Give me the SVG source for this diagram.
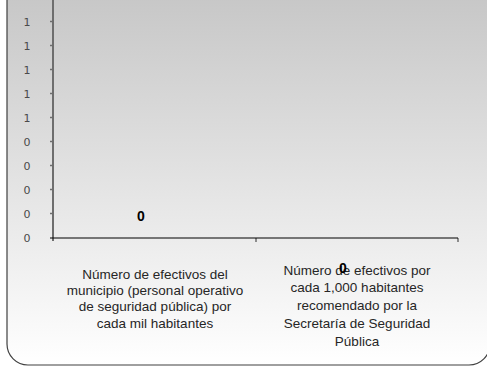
<svg xmlns="http://www.w3.org/2000/svg" width="487" height="367" viewBox="0 0 487 367">
<defs>
<linearGradient id="bg" x1="0" y1="0" x2="0" y2="1">
<stop offset="0" stop-color="#c3c3c3"/>
<stop offset="1" stop-color="#ffffff"/>
</linearGradient>
<style>
.tick{font-family:"DejaVu Sans",sans-serif;font-size:11px;fill:#4a4a4a;text-anchor:middle}
.cat{font-family:"Liberation Sans",Arial,sans-serif;font-size:13.5px;fill:#262626;text-anchor:middle}
.val{font-family:"Liberation Sans",Arial,sans-serif;font-size:14px;font-weight:bold;fill:#000;text-anchor:middle}
</style>
</defs>
<rect x="0" y="0" width="487" height="367" fill="#ffffff"/>
<rect x="7" y="-30" width="483" height="395" rx="21" ry="21" fill="url(#bg)" stroke="#404040" stroke-width="1.2"/>
<g id="axes">
<line x1="53" y1="0" x2="53" y2="241" stroke="#6e6e6e" stroke-width="2"/>
<g stroke="#6e6e6e" stroke-width="1.5">
<line x1="50" y1="21.5" x2="53" y2="21.5"/>
<line x1="50" y1="45.5" x2="53" y2="45.5"/>
<line x1="50" y1="69.5" x2="53" y2="69.5"/>
<line x1="50" y1="93.5" x2="53" y2="93.5"/>
<line x1="50" y1="117.5" x2="53" y2="117.5"/>
<line x1="50" y1="141.5" x2="53" y2="141.5"/>
<line x1="50" y1="165.5" x2="53" y2="165.5"/>
<line x1="50" y1="189.5" x2="53" y2="189.5"/>
<line x1="50" y1="213.5" x2="53" y2="213.5"/>
<line x1="256" y1="238" x2="256" y2="242"/>
<line x1="458" y1="238" x2="458" y2="242"/>
</g>
<line x1="50" y1="238" x2="458" y2="238" stroke="#000" stroke-width="1.2"/>
</g>
<g id="yticks">
<text class="tick" x="27" y="25.5">1</text>
<text class="tick" x="27" y="49.5">1</text>
<text class="tick" x="27" y="73.5">1</text>
<text class="tick" x="27" y="97.5">1</text>
<text class="tick" x="27" y="121.5">1</text>
<text class="tick" x="27" y="145.5">0</text>
<text class="tick" x="27" y="169.5">0</text>
<text class="tick" x="27" y="193.5">0</text>
<text class="tick" x="27" y="217.5">0</text>
<text class="tick" x="27" y="241.5">0</text>
</g>
<g id="cat1">
<text class="cat" x="155" y="279">Número de efectivos del</text>
<text class="cat" x="155" y="295">municipio (personal operativo</text>
<text class="cat" x="155" y="311">de seguridad pública) por</text>
<text class="cat" x="155" y="328">cada mil habitantes</text>
</g>
<g id="cat2">
<text class="cat" x="357" y="275">Número de efectivos por</text>
<text class="cat" x="357" y="292">cada 1,000 habitantes</text>
<text class="cat" x="357" y="310">recomendado por la</text>
<text class="cat" x="357" y="328">Secretaría de Seguridad</text>
<text class="cat" x="357" y="346">Pública</text>
</g>
<g id="values">
<text class="val" x="141" y="221">0</text>
<text class="val" x="343" y="273">0</text>
</g>
</svg>
